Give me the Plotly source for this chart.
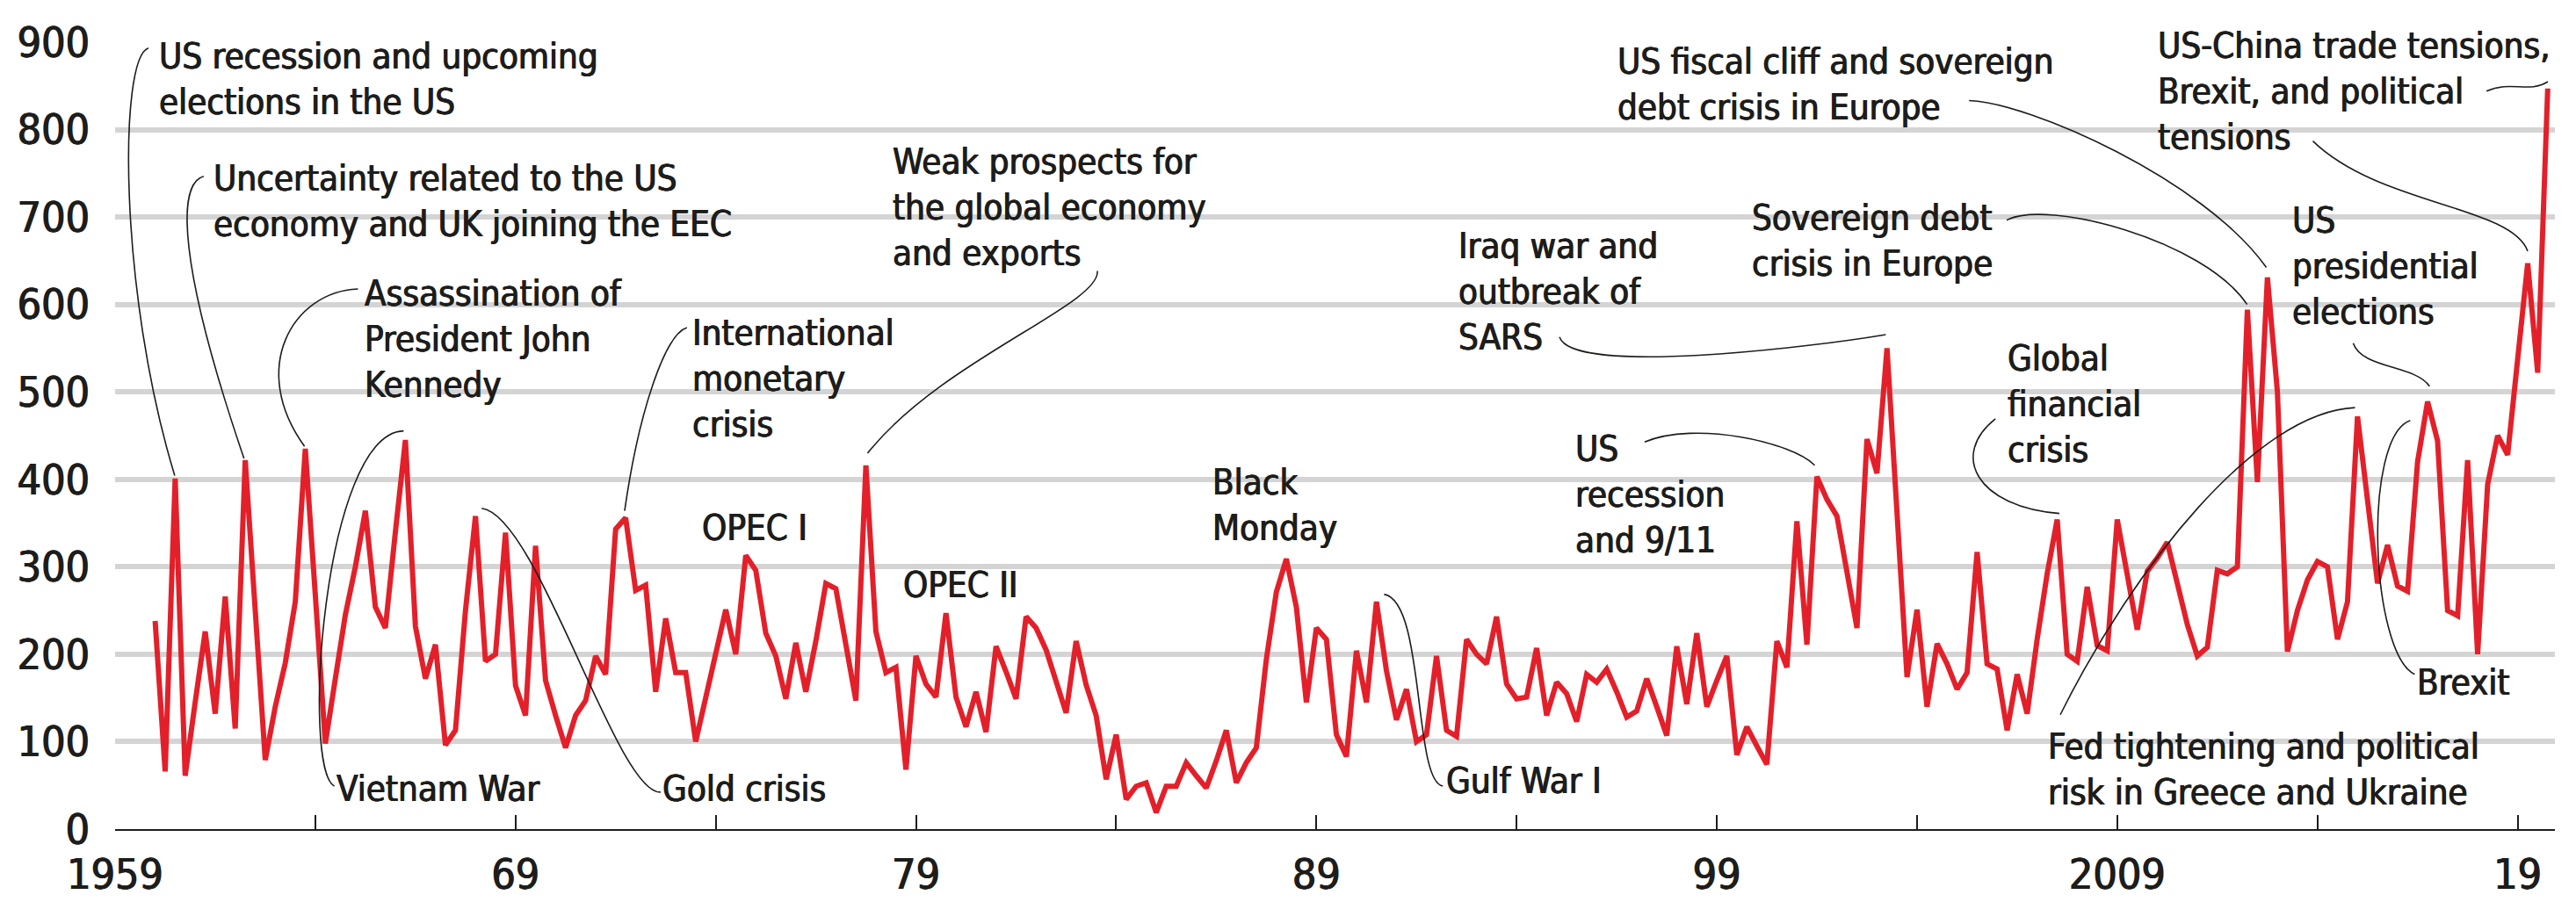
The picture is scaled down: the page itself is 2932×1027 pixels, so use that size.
import plotly.graph_objects as go

# ---------------- data (quarterly index, 1960Q1 .. 2019Q4) ----------------
start_year = 1960
values_1960s = [238, 66, 401, 61, 145, 226, 132, 266, 115, 422,
                250, 79, 140, 190, 260, 435, 268, 98, 172, 245,
                300, 364, 254, 230, 340, 445, 232, 172, 211, 96,
                113, 250, 358, 192, 200, 339, 164, 130, 324, 170]
values_1970s = [130, 93, 130, 147, 198, 177, 343, 356, 273, 279,
                157, 241, 179, 179, 100, 150, 200, 251, 200, 313,
                296, 224, 198, 149, 213, 157, 215, 281, 275, 211,
                147, 416, 226, 179, 185, 68, 198, 166, 151, 247]
values_1980s = [151, 117, 157, 111, 209, 180, 149, 243, 230, 205,
                170, 133, 215, 165, 130, 57, 108, 34, 49, 53,
                19, 49, 49, 76, 61, 47, 78, 113, 53, 76,
                93, 194, 271, 309, 254, 145, 230, 217, 108, 83]
values_1990s = [204, 145, 260, 181, 125, 160, 100, 108, 198, 113,
                106, 217, 200, 189, 243, 166, 149, 151, 207, 130,
                168, 155, 123, 177, 168, 183, 157, 128, 135, 172,
                140, 107, 209, 143, 224, 140, 170, 198, 85, 117]
values_2000s = [95, 74, 215, 185, 352, 211, 403, 377, 358, 295,
                230, 446, 407, 550, 364, 174, 251, 140, 212, 189,
                160, 179, 317, 189, 183, 113, 177, 132, 217, 292,
                354, 200, 192, 277, 210, 204, 354, 290, 228, 295]
values_2010s = [310, 328, 280, 234, 198, 208, 296, 292, 300, 594,
                397, 631, 500, 203, 250, 285, 306, 300, 217, 260,
                472, 380, 281, 325, 278, 272, 420, 489, 444, 250,
                244, 422, 200, 394, 450, 428, 540, 647, 522, 847]

tick_years = [1959, 1964, 1969, 1974, 1979, 1984, 1989, 1994, 1999, 2004, 2009, 2014, 2019]
tick_labels = ["1959", "", "69", "", "79", "", "89", "", "99", "", "2009", "", "19"]
y_ticks = [0, 100, 200, 300, 400, 500, 600, 700, 800, 900]

values = values_1960s + values_1970s + values_1980s + values_1990s + values_2000s + values_2010s
x = [start_year + i / 4 for i in range(len(values))]

# ---------------- layout geometry ----------------
W, H = 2932, 1027
L, R, T, B = 118, 32, 39, 72
X0, X1 = 1959.0, 2019.93
Y0, Y1 = 0, 900

def pxp(px):
    """pixel x -> paper fraction"""
    return (px - L) / (W - L - R)

def pyp(py):
    """pixel y -> paper fraction"""
    return 1 - (py - T) / (H - T - B)

FONT = "DejaVu Sans Condensed, Liberation Sans Narrow, sans-serif"
TXT = "#1d1d1b"
SHADOW = "0.6px 0 0 #1d1d1b, -0.6px 0 0 #1d1d1b"
AFS = 40

fig = go.Figure()
fig.add_trace(go.Scatter(x=x, y=values, mode="lines",
                         line=dict(color="#e3202a", width=6),
                         hoverinfo="skip", showlegend=False))

# annotations: (text, left px, first baseline px)
labels = [
    ("US recession and upcoming<br>elections in the US", 168, 71),
    ("Uncertainty related to the US<br>economy and UK joining the EEC", 230, 213),
    ("Assassination of<br>President John<br>Kennedy", 403, 347),
    ("Vietnam War", 370, 923),
    ("Gold crisis", 742, 923),
    ("International<br>monetary<br>crisis", 776, 393),
    ("OPEC I", 787, 619),
    ("Weak prospects for<br>the global economy<br>and exports", 1005, 193),
    ("OPEC II", 1017, 686),
    ("Black<br>Monday", 1369, 566),
    ("Gulf War I", 1636, 913),
    ("Iraq war and<br>outbreak of<br>SARS", 1650, 291),
    ("US<br>recession<br>and 9/11", 1783, 527),
    ("Sovereign debt<br>crisis in Europe", 1984, 259),
    ("US fiscal cliff and sovereign<br>debt crisis in Europe", 1831, 77),
    ("Global<br>financial<br>crisis", 2276, 422),
    ("US-China trade tensions,<br>Brexit, and political<br>tensions", 2447, 59),
    ("US<br>presidential<br>elections", 2600, 262),
    ("Brexit", 2743, 799),
    ("Fed tightening and political<br>risk in Greece and Ukraine", 2322, 874),
]
for text, lx, base in labels:
    fig.add_annotation(x=pxp(lx), y=pyp(base - 0.95 * AFS), xref="paper", yref="paper",
                       text=text, showarrow=False, xanchor="left", yanchor="top",
                       align="left",
                       font=dict(family=FONT, size=AFS, color=TXT, shadow=SHADOW),
                       borderpad=0, borderwidth=0)

# leader curves: cubic Bezier in pixel space (start, c1, c2, end)
leaders = [
    [(156, 47), (122, 58), (122, 330), (186, 544)],
    [(219, 196), (188, 205), (190, 300), (265, 524)],
    [(395, 327), (320, 330), (270, 420), (334, 510)],
    [(368, 905), (330, 885), (355, 495), (447, 492)],
    [(740, 912), (690, 915), (600, 590), (536, 582)],
    [(770, 372), (745, 380), (715, 470), (699, 585)],
    [(1238, 306), (1242, 345), (1060, 410), (976, 518)],
    [(1632, 905), (1598, 900), (1612, 690), (1565, 682)],
    [(1765, 383), (1780, 428), (2050, 395), (2137, 380)],
    [(1862, 505), (1920, 480), (2030, 505), (2056, 532)],
    [(2275, 247), (2320, 222), (2500, 270), (2549, 345)],
    [(2232, 108), (2300, 110), (2500, 200), (2571, 302)],
    [(2262, 478), (2210, 520), (2240, 580), (2335, 588)],
    [(2822, 97), (2850, 84), (2870, 100), (2892, 86)],
    [(2624, 155), (2700, 230), (2850, 230), (2869, 283)],
    [(2670, 390), (2680, 420), (2740, 415), (2757, 440)],
    [(2740, 775), (2690, 750), (2680, 500), (2735, 480)],
    [(2336, 822), (2420, 650), (2560, 470), (2672, 465)],
]
for pts in leaders:
    (a, b, c, d) = [(pxp(p[0]), pyp(p[1])) for p in pts]
    path = f"M {a[0]},{a[1]} C {b[0]},{b[1]} {c[0]},{c[1]} {d[0]},{d[1]}"
    fig.add_shape(type="path", path=path, xref="paper", yref="paper",
                  line=dict(color="#1d1d1b", width=1.6), layer="above")

fig.update_layout(
    width=W, height=H,
    margin=dict(l=L, r=R, t=T, b=B, pad=0),
    paper_bgcolor="white", plot_bgcolor="white",
    font=dict(family=FONT, color=TXT),
    showlegend=False,
)
fig.update_xaxes(range=[X0, X1], tickmode="array", tickvals=tick_years, ticktext=tick_labels,
                 ticks="inside", ticklen=16, tickwidth=2, tickcolor="#1d1d1b",
                 showline=True, linecolor="#1d1d1b", linewidth=2, showgrid=False, zeroline=False,
                 tickfont=dict(family=FONT, size=48, color=TXT, shadow=SHADOW),
                 ticklabelstandoff=8)
fig.update_yaxes(range=[Y0, Y1 + 1], tickmode="array", tickvals=y_ticks,
                 ticks="", showline=False, showgrid=True, gridcolor="#d4d4d4", gridwidth=6,
                 zeroline=False, tickfont=dict(family=FONT, size=48, color=TXT, shadow=SHADOW),
                 ticklabelstandoff=28)

fig.write_html("out.html")
